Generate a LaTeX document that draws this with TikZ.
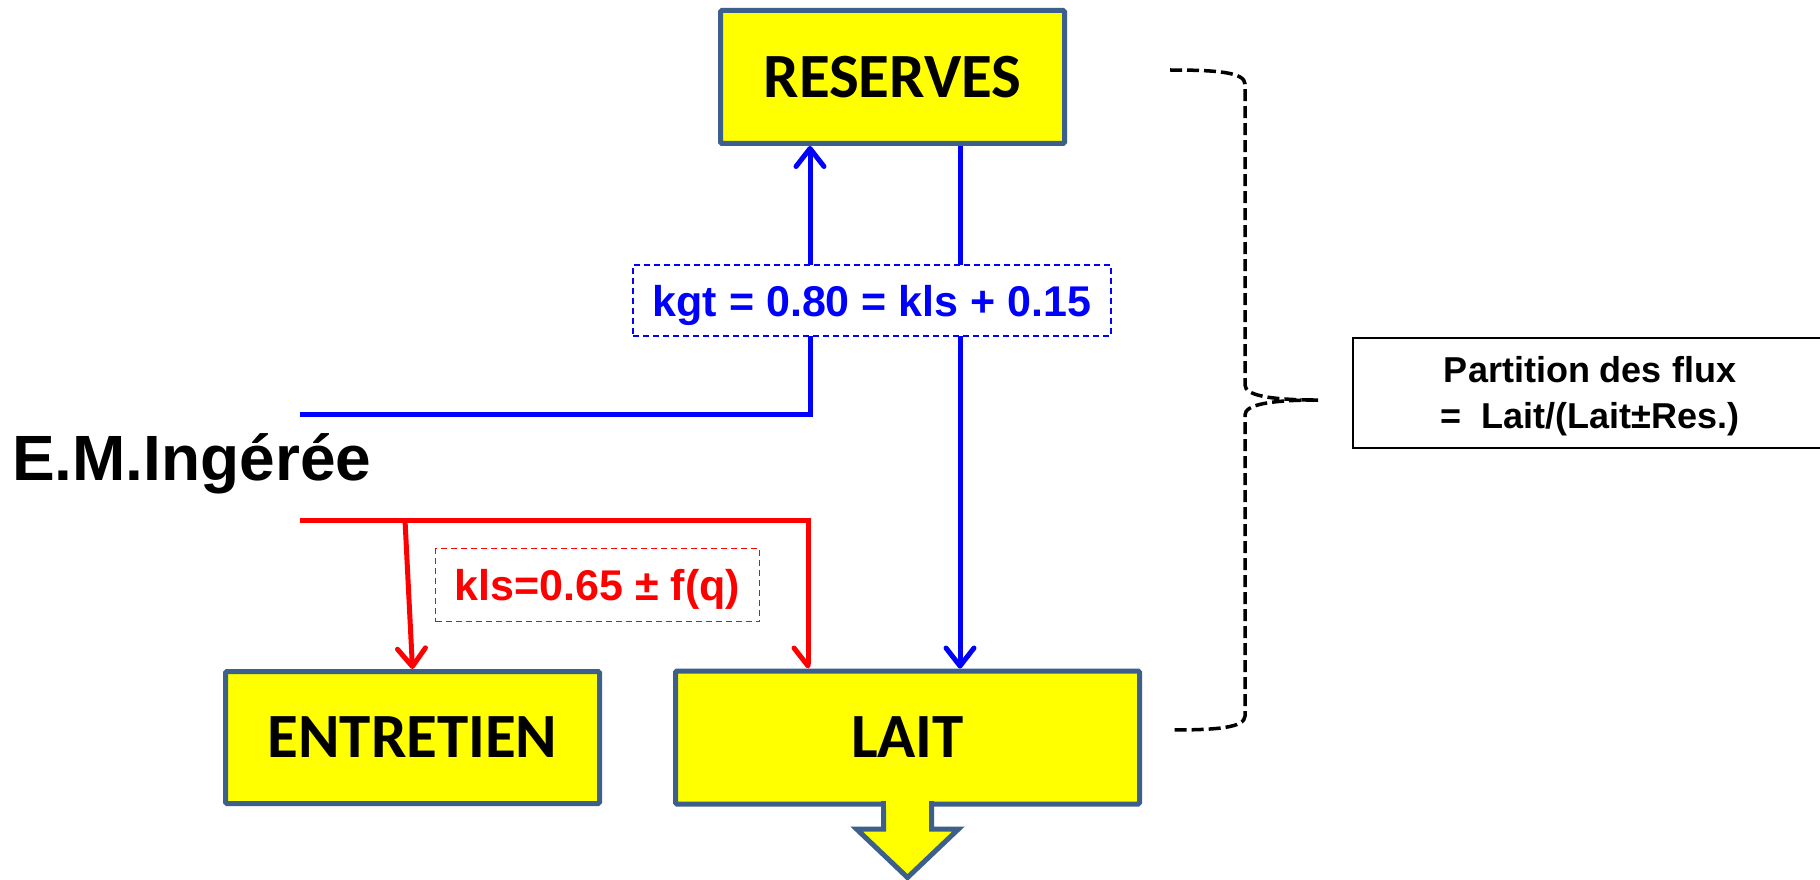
\documentclass[tikz,border=0pt]{standalone}
\usepackage{fontspec}
\setmainfont{Liberation Sans}
\newfontfamily\boxfont{Carlito}
\usetikzlibrary{arrows.meta}
\definecolor{boxedge}{RGB}{60,95,140}
\definecolor{boxfill}{RGB}{255,255,0}
\definecolor{flowblue}{RGB}{0,0,255}
\definecolor{flowred}{RGB}{255,0,0}

\begin{document}
\begin{tikzpicture}[x=1pt,y=-1pt,
  stock/.style={draw=boxedge, fill=boxfill, line width=5pt, rounded corners=1.5pt,
    inner sep=0pt, font=\boxfont\bfseries\fontsize{63}{70}\selectfont},
  flow/.style={line width=5pt},
  tipfull/.style={-{Straight Barb[length=18pt,width=28pt,round]}},
  tiphalf/.style={-{Straight Barb[length=18pt,width=28pt,round,harpoon,swap]}},
  ratebox/.style={draw, dash pattern=on 6pt off 4pt, line width=1.5pt, fill=white,
    inner sep=0pt, text depth=0pt, font=\bfseries\fontsize{43}{50}\selectfont},
  bracket/.style={line width=3.5pt, dash pattern=on 12pt off 5pt},
  ]
\clip (0,0) rectangle (1820,880);
\fill[white] (0,0) rectangle (1820,880);

% stock boxes
\node[stock, minimum width=344pt, minimum height=133pt] (res) at (892.5,77) {RESERVES};
\node[stock, minimum width=374pt, minimum height=132pt] (ent) at (412.5,737.5) {ENTRETIEN};
\node[stock, minimum width=464pt, minimum height=133pt] (lait) at (907.5,737.5) {LAIT};

% outflow arrow below the milk box
\filldraw[draw=boxedge, fill=boxfill, line width=5pt]
  ([shift={(-24,-5.5)}]lait.south) -- ([shift={(-24,22.5)}]lait.south)
  -- ([shift={(-51,22.5)}]lait.south) -- ([shift={(0,71)}]lait.south)
  -- ([shift={(51,22.5)}]lait.south) -- ([shift={(24,22.5)}]lait.south)
  -- ([shift={(24,-5.5)}]lait.south);
% open the box's lower edge where the arrow joins it
\fill[boxfill] ([shift={(-21.5,-7)}]lait.south) rectangle ([shift={(21.5,3)}]lait.south);

% intake label
\node[anchor=base west, inner sep=0pt, font=\bfseries\fontsize{64}{70}\selectfont]
  (em) at (12,480) {E.M.Ingérée};

% flow entry points and column positions
\coordinate (bin) at (300,414);
\coordinate (rin) at (300,520);
\coordinate (rbr) at (405,520);
\coordinate (upx) at (810,0);
\coordinate (dnx) at (960,0);
\coordinate (rdx) at (808,0);

% blue flows
\draw[flow, flowblue, tipfull] (bin) -| (res.south -| upx);
\draw[flow, flowblue, tipfull] (res.south -| dnx) -- (lait.north -| dnx);

% red flows
\draw[flow, flowred, tiphalf] (rin) -| (lait.north -| rdx);
\draw[flow, flowred, tipfull] (rbr) -- (ent.north);

% coefficient labels
\node[ratebox, draw=flowblue, text=flowblue, minimum width=478pt, minimum height=71pt]
  (kgt) at (872,300.5) {kgt = 0.80 = kls + 0.15};
\node[ratebox, draw=flowred, text=flowred, minimum width=324pt, minimum height=73pt]
  (kls) at (597.5,585) {kls=0.65 ± f(q)};

% partition bracket
\draw[bracket] (1170,70) .. controls (1215,70) and (1245,72) .. (1245,84)
  -- (1245,385) .. controls (1245,395) and (1268,400) .. (1318,400);
\draw[bracket] (1318,400) .. controls (1268,400) and (1245,405) .. (1245,415)
  -- (1245,716) .. controls (1245,728) and (1215,730) .. (1170,730);

\node[draw=black, line width=1.5pt, inner sep=0pt, minimum width=474pt, minimum height=110pt]
  (part) at (1590,393) {};
\node[inner sep=0pt, align=center, font=\bfseries\fontsize{36}{46}\selectfont]
  (parttext) at ([yshift=-3pt]part.center) {Partition des flux\\=\ \ Lait/(Lait±Res.)};
\end{tikzpicture}
\end{document}
